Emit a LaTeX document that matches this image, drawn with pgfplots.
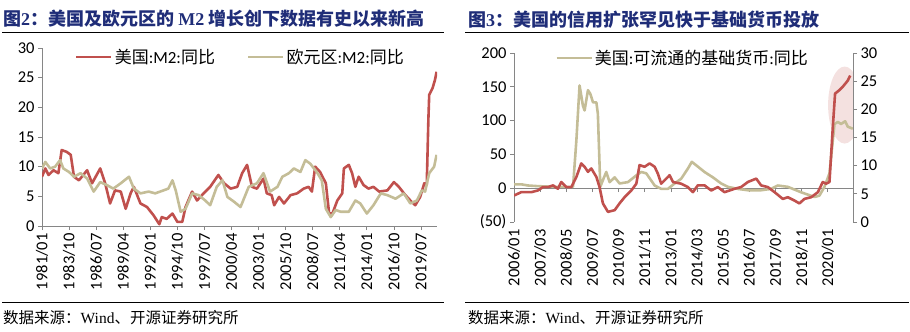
\documentclass[border=0pt]{standalone}
\usepackage{fontspec}
\setmainfont{Carlito}
\newfontfamily\cjk{Noto Sans CJK SC}
\newfontfamily\tms{Liberation Serif}
\usepackage{pgfplots}
\pgfplotsset{compat=1.18}
\usetikzlibrary{shapes.geometric}
\definecolor{redl}{RGB}{192,80,77}
\definecolor{tanl}{RGB}{196,189,151}
\definecolor{navy}{RGB}{31,45,120}
\definecolor{axgray}{RGB}{134,134,134}
\definecolor{pinkel}{RGB}{242,220,219}
\pgfplotsset{
  common/.style={
    scale only axis,
    anchor=south west,
    axis line style={axgray, line width=0.8bp, -},
    every inner x axis line/.append style={-},
    tick style={axgray, line width=0.8bp},
    tick align=outside, major tick length=4bp,
    tick label style={font=\fontsize{16.5bp}{18bp}\selectfont},
    /pgf/number format/assume math mode=true,
    xticklabel style={rotate=90, anchor=east},
    legend style={draw=none, fill=none, inner sep=0pt, legend columns=2,
      font=\fontsize{17bp}{19bp}\selectfont,
      /tikz/every even column/.append style={column sep=30bp}},
    legend image code/.code={\draw[##1, line width=2.6bp] (0bp,0bp) -- (35bp,0bp);},
  },
  ser/.style={line width=2.6bp, line join=round, mark=none},
}
\begin{document}
\begin{tikzpicture}
\path[use as bounding box] (0bp,0bp) rectangle (910bp,332bp);
% titles
\node[anchor=west, inner sep=0pt, text=navy, font=\fontsize{18bp}{20bp}\selectfont\cjk\bfseries] at (3bp,313.5bp) {图{\tms\bfseries 2}：美国及欧元区的 {\tms\bfseries M2} 增长创下数据有史以来新高};
\node[anchor=west, inner sep=0pt, text=navy, font=\fontsize{18bp}{20bp}\selectfont\cjk\bfseries] at (468bp,312.5bp) {图{\tms\bfseries 3}：美国的信用扩张罕见快于基础货币投放};
\draw[line width=1bp] (2bp,299.7bp) -- (444bp,299.7bp);
\draw[line width=1bp] (465bp,299.7bp) -- (909bp,299.7bp);
\draw[line width=1bp] (2bp,29.3bp) -- (444bp,29.3bp);
\draw[line width=1bp] (465bp,29.3bp) -- (909bp,29.3bp);
\node[anchor=west, inner sep=0pt, font=\fontsize{15.5bp}{17bp}\selectfont\cjk] at (3bp,14bp) {数据来源：{\tms Wind}、开源证券研究所};
\node[anchor=west, inner sep=0pt, font=\fontsize{15.5bp}{17bp}\selectfont\cjk] at (468bp,14bp) {数据来源：{\tms Wind}、开源证券研究所};

% ---------- left chart ----------
\begin{axis}[common, width=395bp, height=178bp, at={(42bp,106bp)},
  xmin=0, xmax=481.5, ymin=0, ymax=30,
  axis x line*=bottom, axis y line*=left,
  xtick={0,33,...,462},
  xticklabels={1981/01,1983/10,1986/07,1989/04,1992/01,1994/10,1997/07,2000/04,2003/01,2005/10,2008/07,2011/04,2014/01,2016/10,2019/07},
  ytick={0,5,...,30},
  legend style={at={(axis description cs:0.0835,0.949)}, anchor=west},
]
\addplot[ser, redl] coordinates {(0,8.3)(4,9.7)(8,8.6)(14,9.4)(20,8.9)(24,12.8)(30,12.5)(35,12.0)(39,8.3)(45,7.7)(55,9.4)(61,7.2)(71,9.7)(77,7.2)(83,3.8)(89,6.0)(96,5.8)(102,2.9)(108,5.5)(112,6.6)(120,3.8)(128,3.2)(136,1.8)(143,0.3)(146,1.5)(152,1.2)(159,2.1)(165,0.7)(171,0.7)(175,3.2)(183,5.8)(189,4.3)(197,5.5)(205,6.6)(215,8.6)(222,7.2)(230,6.3)(238,6.6)(244,8.9)(250,10.3)(256,6.6)(262,6.3)(270,8.0)(274,5.5)(280,5.2)(283,3.5)(289,4.9)(295,3.8)(303,5.2)(311,5.5)(319,6.3)(325,6.6)(329,5.8)(333,10.0)(339,9.1)(346,7.2)(350,2.1)(354,2.1)(360,4.3)(366,5.5)(368,9.7)(374,10.3)(378,8.9)(382,6.6)(386,8.3)(392,6.9)(398,6.3)(404,6.6)(411,5.8)(421,6.0)(429,7.4)(435,6.6)(443,5.2)(449,4.3)(455,3.5)(461,4.9)(466,7.2)(469,7.0)(471,18.0)(472,22.1)(476,23.2)(479,24.6)(481,26.0)};
\addlegendentry{{\cjk 美国}:M2:{\cjk 同比}}
\addplot[ser, tanl] coordinates {(0,9.7)(4,10.8)(10,9.7)(16,10.0)(22,11.1)(26,9.7)(33,9.1)(39,8.3)(47,8.9)(55,8.0)(63,5.8)(71,7.4)(79,6.9)(87,6.3)(96,7.2)(106,8.3)(112,6.3)(120,5.5)(130,5.8)(138,5.5)(148,6.0)(154,6.3)(159,7.7)(163,6.0)(169,2.4)(175,2.9)(183,5.5)(191,5.2)(199,4.3)(205,3.5)(213,6.6)(220,7.7)(226,4.9)(234,4.1)(242,3.2)(252,6.6)(262,7.2)(270,8.9)(278,5.8)(287,6.6)(293,8.3)(301,8.9)(307,9.7)(315,9.1)(321,11.1)(327,10.5)(335,9.1)(341,7.7)(346,2.9)(352,1.5)(358,2.7)(364,2.4)(374,2.4)(382,4.3)(388,3.8)(396,2.1)(404,3.5)(413,5.5)(421,5.2)(431,4.6)(441,5.5)(449,3.8)(457,4.3)(463,6.0)(467,5.8)(472,8.9)(478,10.0)(481,12.0)};
\addlegendentry{{\cjk 欧元区}:M2:{\cjk 同比}}
\end{axis}

% ---------- right chart, left axis ----------
\begin{axis}[common, width=339bp, height=169bp, at={(514bp,110bp)},
  xmin=0, xmax=181.5, ymin=-50, ymax=200,
  axis x line*=middle, axis y line*=left,
  xtick={0,14,...,168}, xticklabels={},
  ytick={-50,0,50,100,150,200}, yticklabels={(50),0,50,100,150,200},
  legend style={at={(axis description cs:0.121,0.970)}, anchor=west},
]
\node[ellipse, fill=pinkel, fill opacity=0.85, minimum width=33bp, minimum height=77bp, inner sep=0pt] at (axis cs:177,123) {};
\addplot[ser, tanl] coordinates {(0,5.7)(4,5.7)(7.5,4)(13,3)(22,2)(29,2)(31.6,2)(33.4,71)(35.1,152)(36.9,122)(37.8,115)(39.6,145)(40.8,140)(42.3,127)(44.1,127)(44.9,110)(46.2,2)(47.6,12)(49.4,24)(51.2,9)(53.9,16)(56.5,7)(61,9)(65.5,19)(68.1,24)(70.8,22)(75.3,4)(78.8,-1)(82.4,-1)(86,7)(89.5,14)(93.1,29)(95.2,39)(98.4,32)(102,24)(106.5,16)(110.9,7)(114.5,2)(119.8,-1)(125.2,-3)(132.3,-3)(137.7,-1)(141.2,4)(146.6,2)(153.7,-6)(160.9,-13)(163.5,-11)(166.2,2)(168.9,22)(171.6,95)(173.4,98)(175.1,95)(177.3,99)(178.7,91)(181.4,88)};
\addlegendentry{{\cjk 美国}:{\cjk 可流通的基础货币}:{\cjk 同比}}
\end{axis}

% ---------- right chart, right axis ----------
\begin{axis}[common, width=339bp, height=169bp, at={(514bp,110bp)},
  xmin=0, xmax=181.5, ymin=0, ymax=30,
  axis x line*=bottom, axis y line*=right,
  x axis line style={draw=none}, xtick style={draw=none},
  xtick={0,14,...,168},
  xticklabels={2006/01,2007/03,2008/05,2009/07,2010/09,2011/11,2013/01,2014/03,2015/05,2016/07,2017/09,2018/11,2020/01},
  ytick={0,5,...,30},
]
\addplot[ser, redl] coordinates {(0,4.7)(3.9,5.3)(9.3,5.3)(12.8,5.6)(15.5,6.2)(18.2,6.2)(20.9,6.5)(23.5,5.9)(25.3,7.1)(28,6.2)(30.7,6.2)(33.4,8.0)(36,10.4)(37.8,9.8)(39.6,8.9)(41.4,9.5)(44.1,8.0)(45.8,6.2)(47.6,3.3)(50.3,1.8)(53.9,2.1)(56.5,3.3)(59.2,4.4)(62.8,5.6)(65.5,6.8)(67.2,10.1)(69.9,9.8)(72.6,10.4)(75.3,9.8)(77,8.6)(78.8,6.8)(81.5,7.7)(83.3,8.3)(85.1,7.1)(89.5,6.8)(93.1,6.2)(95.8,5.3)(98.4,6.5)(102,6.5)(105.6,5.6)(109.1,6.2)(112.7,5.3)(118.1,5.9)(121.6,6.2)(125.2,7.1)(129.7,7.7)(132.3,6.5)(135.9,6.2)(139.5,5.3)(143.9,4.1)(146.6,4.4)(150.2,3.8)(152.8,3.3)(155.5,4.1)(159.1,4.4)(162.7,5.3)(165.3,7.1)(167.1,6.8)(168.9,7.1)(170.7,16.9)(171.9,22.8)(174.2,23.4)(176,24.0)(178.7,25.1)(180,26.0)};
\end{axis}
\end{tikzpicture}
\end{document}
